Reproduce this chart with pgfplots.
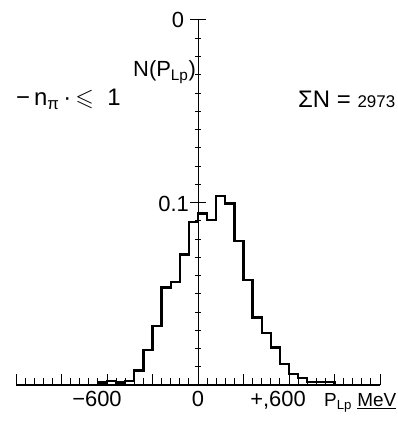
\documentclass[border=0pt]{standalone}
\usepackage{pgfplots}
\pgfplotsset{compat=1.18}
\usepackage{amssymb}
\usepackage{fontspec}
\setmainfont{Liberation Sans}

% normalised distribution of the longitudinal proton momentum, 60 MeV/c bins
\pgfplotstableread{
p      n
-660   0
-660   0.0013
-600   0.0022
-540   0.0013
-480   0.0022
-420   0.0080
-360   0.0190
-300   0.0325
-240   0.0535
-180   0.0565
-120   0.0715
-60    0.0895
0      0.0940
60     0.0905
120    0.1035
180    0.0995
240    0.0790
300    0.0575
360    0.0370
420    0.0285
480    0.0205
540    0.0115
600    0.0060
660    0.0040
720    0.0015
780    0.0015
840    0.0015
900    0
}\histo

\begin{document}
\begin{tikzpicture}
\begin{axis}[
  scale only axis, width=364bp, height=365bp,
  xmin=-1200, xmax=1200, ymin=0, ymax=0.2,
  axis lines=none, clip=false,
]
\coordinate (O) at (axis cs:0,0);
% horizontal axis with upward ticks every 60 MeV/c
\draw[line width=1.2bp] (axis cs:-1200,0) -- (axis cs:1200,0);
\pgfplotsinvokeforeach{-1200,-1140,...,1200}{
  \draw[line width=0.9bp] (axis cs:#1,0) -- ([yshift=7bp]axis cs:#1,0);
}
\pgfplotsinvokeforeach{-1200,-900,...,1200}{
  \draw[line width=0.9bp] (axis cs:#1,0) -- ([yshift=11bp]axis cs:#1,0);
}
% vertical axis with crossing ticks every 0.01
\draw[line width=1bp] (axis cs:0,0) -- (axis cs:0,0.2);
\pgfplotsinvokeforeach{0.01,0.02,0.03,0.04,0.05,0.06,0.07,0.08,0.09,0.11,0.12,0.13,0.14,0.15,0.16,0.17,0.18,0.19}{
  \draw[line width=0.9bp] ([xshift=-3bp]axis cs:0,#1) -- ([xshift=3bp]axis cs:0,#1);
}
\pgfplotsinvokeforeach{0.1,0.2}{
  \draw[line width=1bp] ([xshift=-8bp]axis cs:0,#1) -- ([xshift=8bp]axis cs:0,#1);
}
% histogram
\addplot[const plot, line width=2.3bp, black] table[x=p, y=n] {\histo};
\end{axis}

% labels
\begin{scope}[every node/.style={inner sep=0pt}]
\node[anchor=base, font=\fontsize{22}{26}\selectfont] at ([shift={(-101bp,-21bp)}]O) {−600};
\node[anchor=base, font=\fontsize{22}{26}\selectfont] at ([shift={(0bp,-21bp)}]O) {0};
\node[anchor=base, font=\fontsize{22}{26}\selectfont] at ([shift={(80bp,-21bp)}]O) {+,600};
\node[anchor=base west, font=\fontsize{19}{23}\selectfont] at ([shift={(126bp,-21bp)}]O) {P\textsubscript{Lp} \underline{MeV}};
\node[anchor=base east, font=\fontsize{22}{26}\selectfont] at ([shift={(-9bp,173bp)}]O) {0.1};
\node[anchor=base, font=\fontsize{22}{26}\selectfont] at ([shift={(-20bp,357bp)}]O) {0};
\node[anchor=base east, font=\fontsize{22}{26}\selectfont] at ([shift={(-2bp,308bp)}]O) {N(P\textsubscript{Lp})};
\node[anchor=base west, font=\fontsize{24}{28}\selectfont] at ([shift={(-182bp,279bp)}]O) {−\,n\textsubscript{π}\,·\,$\leqslant$\ \ 1};
\node[anchor=base west, font=\fontsize{24}{28}\selectfont] at ([shift={(100bp,277bp)}]O) {ΣN = {\fontsize{17}{20}\selectfont 2973}};
\end{scope}

\pgfresetboundingbox
\path ([shift={(-198bp,-43bp)}]O) rectangle ([shift={(200bp,385bp)}]O);
\end{tikzpicture}
\end{document}
